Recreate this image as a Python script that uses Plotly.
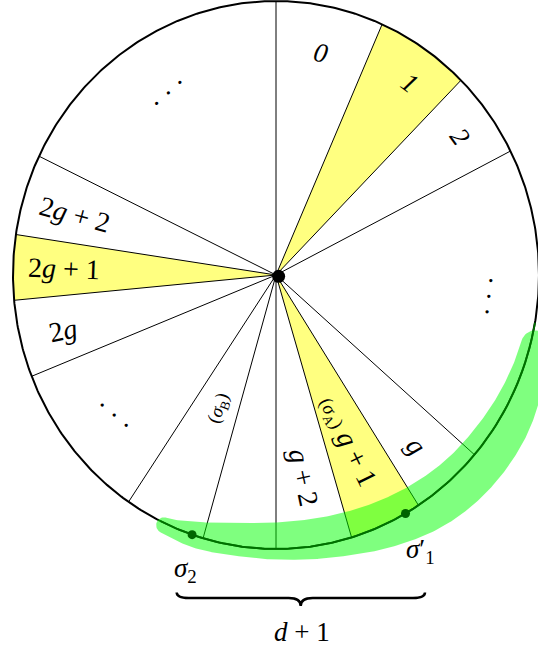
import numpy as np
import plotly.graph_objects as go

# ---------------- data (angles in degrees, radii relative to the circle) ----------------
spoke_angles = [90, 66.2, 45.3, 26.9, -41.0, -57.2, -73.3, -90, -106.1, -124.1,
                -158.3, -174.7, 171.5, 154.3]
yellow_from = [45.3, -73.3, 171.5]
yellow_to = [66.2, -57.2, 185.3]

label_texts = ["<i>0</i>", "<i>1</i>", "<i>2</i>", "· · ·", "· · ·",
               "2<i>g</i> + 2", "2<i>g</i> + 1", "2<i>g</i>", "· · ·",
               "(<i>σ</i><sub>B</sub>)", "<i>g</i> + 2",
               "<span style='font-size:19px'>(<i>σ</i><sub>A</sub>)</span> <i>g</i> + 1",
               "<i>g</i>"]
label_theta = [78.1, 54.0, 35.7, 121.7, -5.4, 163.8, 178.4, -165.9, -140.3, -113.8, -82.0, -65.7, -49.5]
label_r = [0.828, 0.866, 0.862, 0.781, 0.8135, 0.796, 0.806, 0.837, 0.80, 0.532, 0.748, 0.665, 0.820]
label_rot = [12, 36, 54, -42, 97, 15, 2, -12, 40, -70, 78, 64, 50]
label_size = [27, 27, 27, 27, 27, 28, 28, 28, 27, 19, 28, 28, 28]

band_theta = [-115, -109, -98, -87, -76, -65, -55, -46, -36, -29, -14.5]
band_inner = [0.985, 0.95, 0.912, 0.900, 0.902, 0.912, 0.924, 0.935, 0.942, 0.950, 0.965]
band_outer = [1.035, 1.046, 1.035, 1.040, 1.056, 1.089, 1.118, 1.128, 1.125, 1.115, 1.07]
arc_from, arc_to = -116.0, -10.0
sigma_theta = [-108.6, -60.5]

bottom_texts = ["<i>σ</i><sub>2</sub>", "<i>σ</i>′<sub>1</sub>", "<i>d</i> + 1"]

# ---------------- geometry / layout constants ----------------
W, H = 538, 652
CX, CY, RX, RY = 276.0, 275.0, 263.0, 274.0
FONT = "Liberation Serif, DejaVu Serif, serif"


def pol(r, deg):
    t = np.radians(np.asarray(deg, dtype=float))
    return np.asarray(r) * np.cos(t), np.asarray(r) * np.sin(t)


def px2d(px, py):
    return (px - CX) / RX, (CY - py) / RY


fig = go.Figure()

# yellow sectors
for a0, a1 in zip(yellow_from, yellow_to):
    th = np.linspace(a0, a1, 60)
    x, y = pol(1.0, th)
    fig.add_trace(go.Scatter(x=np.r_[0, x, 0], y=np.r_[0, y, 0], mode="lines",
                             fill="toself", fillcolor="#ffff80",
                             line=dict(width=0), hoverinfo="skip"))

# spokes
sx, sy = [], []
for a in spoke_angles:
    ex, ey = pol(1.0, a)
    sx += [0, float(ex), None]
    sy += [0, float(ey), None]
fig.add_trace(go.Scatter(x=sx, y=sy, mode="lines", line=dict(color="black", width=1),
                         hoverinfo="skip"))

# circle
th = np.linspace(0, 360, 721)
cx_, cy_ = pol(1.0, th)
fig.add_trace(go.Scatter(x=cx_, y=cy_, mode="lines", line=dict(color="black", width=2),
                         hoverinfo="skip"))

# green band (computed in pixel-scaled space for round caps)
tt = np.linspace(band_theta[0], band_theta[-1], 300)
ri = np.interp(tt, band_theta, band_inner)
ro = np.interp(tt, band_theta, band_outer)
k = np.ones(25) / 25
ri = np.convolve(np.pad(ri, 12, mode="edge"), k, mode="valid")
ro = np.convolve(np.pad(ro, 12, mode="edge"), k, mode="valid")
tr = np.radians(tt)
oX, oY = RX * ro * np.cos(tr), RY * ro * np.sin(tr)
iX, iY = RX * ri * np.cos(tr), RY * ri * np.sin(tr)


def cap(pa, pb, tdir):
    m = (pa + pb) / 2
    a = pa - m
    rho = np.hypot(*a)
    t = tdir / np.hypot(*tdir) * rho
    ph = np.linspace(0, np.pi, 30)
    return m[0] + a[0] * np.cos(ph) + t[0] * np.sin(ph), m[1] + a[1] * np.cos(ph) + t[1] * np.sin(ph)


te = tr[-1]
endX, endY = cap(np.array([oX[-1], oY[-1]]), np.array([iX[-1], iY[-1]]),
                 np.array([-RX * np.sin(te), RY * np.cos(te)]))
ts = tr[0]
stX, stY = cap(np.array([iX[0], iY[0]]), np.array([oX[0], oY[0]]),
               np.array([RX * np.sin(ts), -RY * np.cos(ts)]))
BX = np.r_[oX, endX, iX[::-1], stX]
BY = np.r_[oY, endY, iY[::-1], stY]
fig.add_trace(go.Scatter(x=BX / RX, y=BY / RY, mode="lines", fill="toself",
                         fillcolor="rgba(0,255,0,0.5)", line=dict(width=0),
                         hoverinfo="skip"))

# dark green arc and points
th = np.linspace(arc_from, arc_to, 200)
ax_, ay_ = pol(1.0, th)
fig.add_trace(go.Scatter(x=ax_, y=ay_, mode="lines", line=dict(color="#006f00", width=1.8),
                         hoverinfo="skip"))
gx, gy = pol(1.0, sigma_theta)
fig.add_trace(go.Scatter(x=gx, y=gy, mode="markers",
                         marker=dict(color="#006400", size=9), hoverinfo="skip"))

# centre dot
fig.add_trace(go.Scatter(x=[0.01], y=[-0.005], mode="markers",
                         marker=dict(color="black", size=13), hoverinfo="skip"))

# sector labels
lx, ly = pol(label_r, label_theta)
for t, x, y, rot, fs in zip(label_texts, lx, ly, label_rot, label_size):
    fig.add_annotation(x=float(x), y=float(y), text=t, showarrow=False, textangle=rot,
                       font=dict(family=FONT, size=fs, color="black"),
                       xanchor="center", yanchor="middle")

# bottom labels
bpos = [px2d(185, 570), px2d(420, 551), px2d(301.7, 632)]
for t, (x, y) in zip(bottom_texts, bpos):
    fig.add_annotation(x=x, y=y, text=t, showarrow=False,
                       font=dict(family=FONT, size=27, color="black"),
                       xanchor="center", yanchor="middle")

# brace
x0, yE = px2d(176.7, 592.5)
x1, _ = px2d(425.0, 592.5)
xm, yB = px2d(300.7, 598.0)
_, yT = px2d(0, 606.0)
h = 12 / RX
path = (f"M {x0},{yE} Q {x0},{yB} {x0+h},{yB} L {xm-h},{yB} Q {xm},{yB} {xm},{yT} "
        f"Q {xm},{yB} {xm+h},{yB} L {x1-h},{yB} Q {x1},{yB} {x1},{yE}")
fig.add_shape(type="path", path=path, line=dict(color="black", width=2.5))

xr = [-CX / RX, (W - CX) / RX]
yr = [(CY - H) / RY, CY / RY]
fig.update_layout(width=W, height=H, autosize=False,
                  margin=dict(l=0, r=0, t=0, b=0, pad=0),
                  paper_bgcolor="white", plot_bgcolor="white", showlegend=False,
                  xaxis=dict(range=xr, visible=False, fixedrange=True),
                  yaxis=dict(range=yr, visible=False, fixedrange=True))

fig.write_html("out.html", config={"displayModeBar": False},
               post_script="document.body.style.margin='0';")
